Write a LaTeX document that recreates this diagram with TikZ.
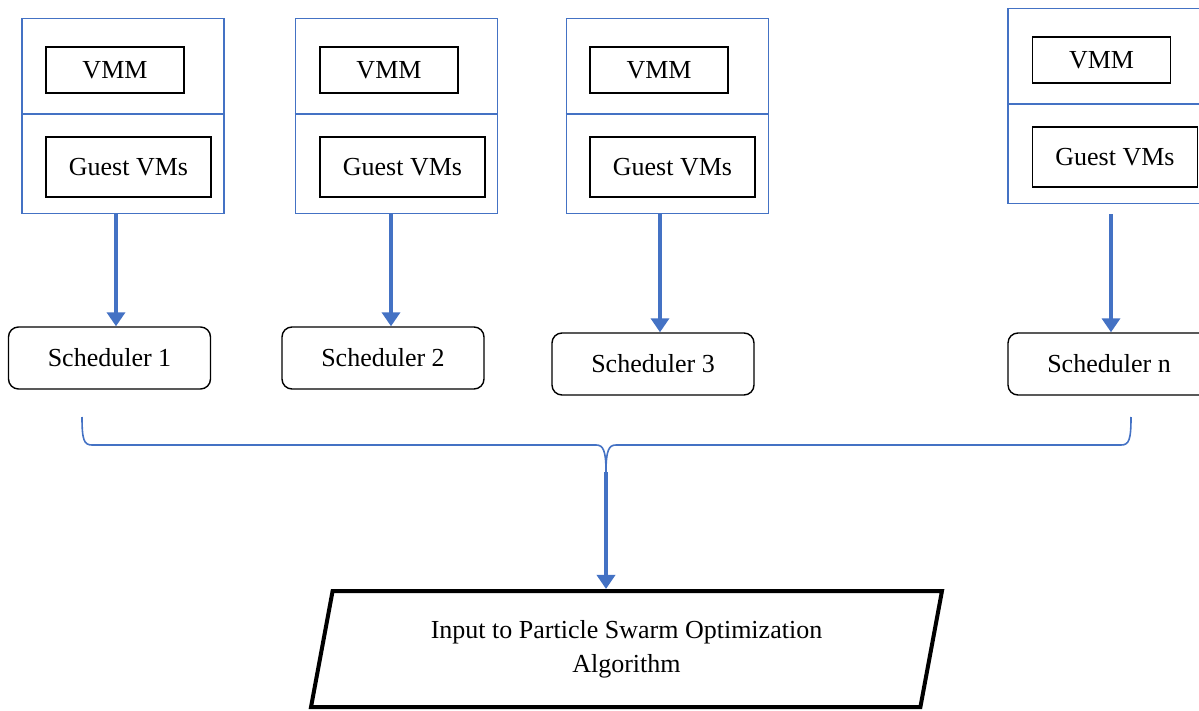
\documentclass[tikz,border=0pt]{standalone}
\usepackage{fontspec}
\setmainfont{Liberation Serif}
\usetikzlibrary{arrows.meta,shapes.geometric}
\definecolor{hostblue}{HTML}{4472C4}
\tikzset{
	host/.style={draw=hostblue,line width=1.6pt,minimum width=202pt,minimum height=195pt,inner sep=0pt},
	part/.style={draw=black,line width=1.4pt,inner sep=0pt},
	sched/.style={draw=black,line width=1.4pt,rounded corners=10pt,minimum width=202pt,minimum height=62pt,inner sep=0pt},
	flow/.style={draw=hostblue,line width=4.5pt,-{Triangle[width=18pt,length=14pt]}},
	brace/.style={draw=hostblue,line width=1.6pt},
	psoin/.style={trapezium,trapezium left angle=76,trapezium right angle=104,trapezium stretches=true,draw=black,line width=4pt,minimum width=635pt,minimum height=116pt,inner sep=0pt,align=center}
}
\begin{document}
\begin{tikzpicture}[x=1pt,y=-1pt,font=\fontsize{26}{34}\selectfont]
					\clip (0,0) rectangle (1199,711);
					% hosts
					\node [host] (host1) at (123,116) {};
					\node [host] (host2) at (396.5,116) {};
					\node [host] (host3) at (667.5,116) {};
					\node [host] (host4) at (1109,106) {};
					\draw [hostblue,line width=1.6pt] ([yshift=2pt]host1.west)--([yshift=2pt]host1.east);
					\draw [hostblue,line width=1.6pt] ([yshift=2pt]host2.west)--([yshift=2pt]host2.east);
					\draw [hostblue,line width=1.6pt] ([yshift=2pt]host3.west)--([yshift=2pt]host3.east);
					\draw [hostblue,line width=1.6pt] ([yshift=2pt]host4.west)--([yshift=2pt]host4.east);
					\node [part,minimum width=138pt,minimum height=46pt] (vmm1) at (115,70) {VMM};
					\node [part,minimum width=138pt,minimum height=46pt] (vmm2) at (389,70) {VMM};
					\node [part,minimum width=138pt,minimum height=46pt] (vmm3) at (659,70) {VMM};
					\node [part,minimum width=138pt,minimum height=46pt] (vmm4) at (1101.5,60) {VMM};
					\node [part,minimum width=165pt,minimum height=60pt] (guest1) at (128.5,167) {Guest VMs};
					\node [part,minimum width=165pt,minimum height=60pt] (guest2) at (402.5,167) {Guest VMs};
					\node [part,minimum width=165pt,minimum height=60pt] (guest3) at (672.5,167) {Guest VMs};
					\node [part,minimum width=165pt,minimum height=60pt] (guest4) at (1115,157) {Guest VMs};
					% schedulers
					\node [sched] (sched1) at (109.5,358) {Scheduler 1};
					\node [sched] (sched2) at (383,358) {Scheduler 2};
					\node [sched] (sched3) at (653,364) {Scheduler 3};
					\node [sched] (sched4) at (1109,364) {Scheduler n};
					\draw [flow] ([xshift=-7pt]host1.south)--([xshift=6.5pt]sched1.north);
					\draw [flow] ([xshift=-5.5pt]host2.south)--([xshift=8pt]sched2.north);
					\draw [flow] ([xshift=-7.5pt]host3.south)--([xshift=7pt]sched3.north);
					\draw [flow] ([xshift=2pt,yshift=-10pt]host4.south)--([xshift=2pt]sched4.north);
					% brace and PSO input
					\coordinate (bracetip) at (606,472);
					\draw [brace] (82,417) .. controls (82,440) and (84,445) .. (92,445)--(596,445) .. controls (603,445) and (606,450) .. (bracetip);
					\draw [brace] (bracetip) .. controls (606,450) and (609,445) .. (616,445)--(1121,445) .. controls (1129,445) and (1131,440) .. (1131,417);
					\node [psoin] (pso) at (626.5,649) {Input to Particle Swarm Optimization\\Algorithm};
					\draw [flow] (bracetip)--(bracetip |- pso.north);
				\end{tikzpicture}
\end{document}
